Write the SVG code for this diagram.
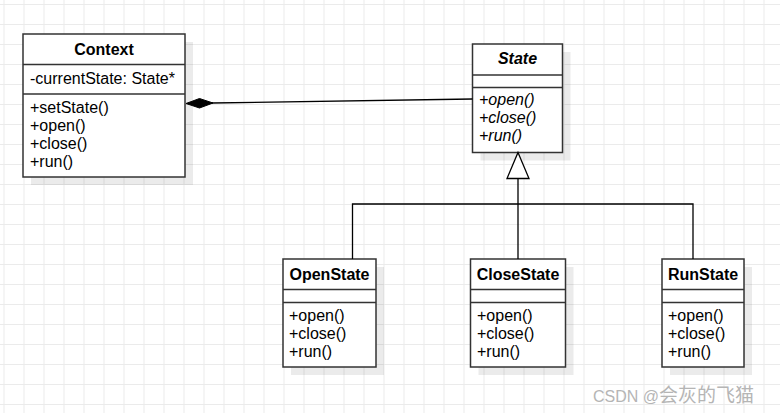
<svg xmlns="http://www.w3.org/2000/svg" width="780" height="413" viewBox="0 0 780 413">
<defs>
<pattern id="grid" x="3.5" y="4" width="20" height="20" patternUnits="userSpaceOnUse">
<path d="M0.5,0 V20 M0,0.5 H20" fill="none" stroke="#ebebeb" stroke-width="1"/>
</pattern>
</defs>
<style>
.box{fill:#fff;stroke:#333;stroke-width:1.5}
.shadow{fill:#000;opacity:0.08}
.div{stroke:#333;stroke-width:1.5}
.t{font-family:"Liberation Sans",Arial,sans-serif;font-size:16px;fill:#000}
.b{font-weight:bold;text-anchor:middle}
.i{font-style:italic}
.edge{fill:none;stroke:#000;stroke-width:1.3}
</style>
<rect width="780" height="413" fill="#fff"/>
<rect width="780" height="413" fill="url(#grid)"/>

<g id="Context">
<rect class="shadow" x="31" y="42" width="162" height="143"/>
<rect class="box" x="23" y="34" width="162" height="143"/>
<line class="div" x1="23" y1="64.5" x2="185" y2="64.5"/>
<line class="div" x1="23" y1="94" x2="185" y2="94"/>
<text class="t b" x="104" y="55">Context</text>
<text class="t" x="30" y="84">-currentState: State*</text>
<text class="t" x="30" y="112.7">+setState()</text>
<text class="t" x="30" y="130.7">+open()</text>
<text class="t" x="30" y="148.7">+close()</text>
<text class="t" x="30" y="166.7">+run()</text>
</g>

<g id="State">
<rect class="shadow" x="480.5" y="52" width="90" height="108.5"/>
<rect class="box" x="472.5" y="44" width="90" height="108.5"/>
<line class="div" x1="472.5" y1="75" x2="562.5" y2="75"/>
<line class="div" x1="472.5" y1="87.5" x2="562.5" y2="87.5"/>
<text class="t b i" x="517.5" y="64.3">State</text>
<text class="t i" x="479" y="104.5">+open()</text>
<text class="t i" x="479" y="122.5">+close()</text>
<text class="t i" x="479" y="140.5">+run()</text>
</g>

<g id="OpenState">
<rect class="shadow" x="291" y="267" width="93" height="108"/>
<rect class="box" x="283" y="259" width="93" height="108"/>
<line class="div" x1="283" y1="289.5" x2="376" y2="289.5"/>
<line class="div" x1="283" y1="302.5" x2="376" y2="302.5"/>
<text class="t b" x="329.5" y="280">OpenState</text>
<text class="t" x="289" y="320.5">+open()</text>
<text class="t" x="289" y="338.5">+close()</text>
<text class="t" x="289" y="356.5">+run()</text>
</g>

<g id="CloseState">
<rect class="shadow" x="478.5" y="267" width="95" height="108"/>
<rect class="box" x="470.5" y="259" width="95" height="108"/>
<line class="div" x1="470.5" y1="289.5" x2="565.5" y2="289.5"/>
<line class="div" x1="470.5" y1="302.5" x2="565.5" y2="302.5"/>
<text class="t b" x="518" y="280">CloseState</text>
<text class="t" x="477" y="320.5">+open()</text>
<text class="t" x="477" y="338.5">+close()</text>
<text class="t" x="477" y="356.5">+run()</text>
</g>

<g id="RunState">
<rect class="shadow" x="670" y="267" width="82" height="108"/>
<rect class="box" x="662" y="259" width="82" height="108"/>
<line class="div" x1="662" y1="289.5" x2="744" y2="289.5"/>
<line class="div" x1="662" y1="302.5" x2="744" y2="302.5"/>
<text class="t b" x="703" y="280">RunState</text>
<text class="t" x="668" y="320.5">+open()</text>
<text class="t" x="668" y="338.5">+close()</text>
<text class="t" x="668" y="356.5">+run()</text>
</g>

<g id="connectors">
<path class="edge" d="M212,103 L472.5,99"/>
<path d="M186,103.5 L199.5,98.5 L213,103 L199.5,108 Z" fill="#000" stroke="#000" stroke-width="1"/>
<path class="edge" d="M518,178.5 V204 M352.5,259 V204 H693 V259 M518,204 V259" stroke="#333"/>
<path d="M518,152.5 L529,178.5 L507,178.5 Z" fill="#fff" stroke="#000" stroke-width="1.3"/>
</g>

<text x="593" y="402" font-family="'Liberation Sans','Noto Sans CJK SC',sans-serif" font-size="16" fill="#b5b5b5">CSDN @<tspan font-size="19">会灰的飞猫</tspan></text>
</svg>
